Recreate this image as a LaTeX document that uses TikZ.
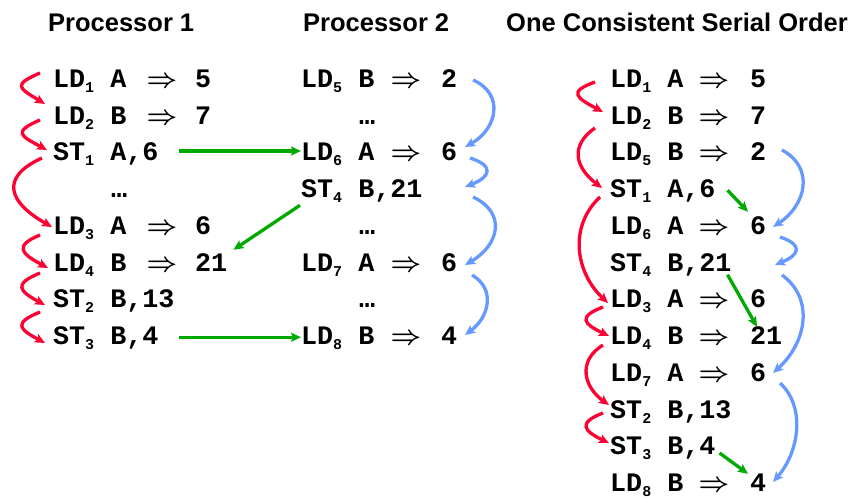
\RequirePackage{fix-cm}
\documentclass[tikz,border=0pt]{standalone}
\usepackage{fontspec}
\usetikzlibrary{arrows.meta,calc}
\newfontfamily\courf{Liberation Mono}
\newfontfamily\arialf{Liberation Sans}
\newcommand\subn[1]{\raisebox{-5pt}{\fontsize{15}{15}\selectfont #1}}
\newcommand\bimp{\mbox{\boldmath$\Rightarrow$}}
\definecolor{redc}{RGB}{255,0,51}
\definecolor{bluec}{RGB}{102,153,255}
\definecolor{greenc}{RGB}{0,170,0}
\newcommand\ldrow[7]{%
  \node[txt] (#1) at (#2,#5) {#6};
  \node[txt] (#1a) at (#3,#5) {\bimp};
  \node[txt] (#1v) at (#4,#5) {#7};}
\begin{document}
\begin{tikzpicture}[x=1pt,y=-1pt,
  txt/.style={inner sep=0pt, anchor=west, text height=14.5pt, text depth=0pt,
    font=\courf\bfseries\fontsize{26.7}{30}\selectfont},
  hdr/.style={inner sep=0pt, anchor=base west,
    font=\arialf\bfseries\fontsize{25.5}{30}\selectfont},
  redarr/.style={draw=redc, line width=3.3pt, -{Stealth[length=10pt,width=9pt,inset=2pt]}},
  bluearr/.style={draw=bluec, line width=3.3pt, -{Stealth[length=10pt,width=9pt,inset=2pt]}},
  greenarr/.style={draw=greenc, line width=3.3pt, -{Stealth[length=10pt,width=9pt,inset=2pt]}}
]
\useasboundingbox (0,0) rectangle (857,498);
% headers
\node[hdr] (h1) at (48,31) {Processor 1};
\node[hdr] (h2) at (303,31) {Processor 2};
\node[hdr] (h3) at (506,31) {One Consistent Serial Order};
% Processor 1
\ldrow{a0}{53}{146.5}{195}{80}{LD\subn{1} A}{5}
\ldrow{a1}{53}{146.5}{195}{116.75}{LD\subn{2} B}{7}
\node[txt] (a2) at (53,153.5) {ST\subn{1} A,6};
\node[txt] (a3) at (111,190.25) {…};
\ldrow{a4}{53}{146.5}{195}{227}{LD\subn{3} A}{6}
\ldrow{a5}{53}{146.5}{195}{263.75}{LD\subn{4} B}{21}
\node[txt] (a6) at (53,300.5) {ST\subn{2} B,13};
\node[txt] (a7) at (53,337.25) {ST\subn{3} B,4};
% Processor 2
\ldrow{b0}{301}{390.5}{441}{80}{LD\subn{5} B}{2}
\node[txt] (b1) at (359,116.75) {…};
\ldrow{b2}{301}{390.5}{441}{153.5}{LD\subn{6} A}{6}
\node[txt] (b3) at (301,190.25) {ST\subn{4} B,21};
\node[txt] (b4) at (359,227) {…};
\ldrow{b5}{301}{390.5}{441}{263.75}{LD\subn{7} A}{6}
\node[txt] (b6) at (359,300.5) {…};
\ldrow{b7}{301}{390.5}{441}{337.25}{LD\subn{8} B}{4}
% Serial order
\ldrow{s0}{610}{698.5}{750}{80}{LD\subn{1} A}{5}
\ldrow{s1}{610}{698.5}{750}{116.75}{LD\subn{2} B}{7}
\ldrow{s2}{610}{698.5}{750}{153.5}{LD\subn{5} B}{2}
\node[txt] (s3) at (610,190.25) {ST\subn{1} A,6};
\ldrow{s4}{610}{698.5}{750}{227}{LD\subn{6} A}{6}
\node[txt] (s5) at (610,263.75) {ST\subn{4} B,21};
\ldrow{s6}{610}{698.5}{750}{300.5}{LD\subn{3} A}{6}
\ldrow{s7}{610}{698.5}{750}{337.25}{LD\subn{4} B}{21}
\ldrow{s8}{610}{698.5}{750}{374}{LD\subn{7} A}{6}
\node[txt] (s9) at (610,410.75) {ST\subn{2} B,13};
\node[txt] (s10) at (610,447.5) {ST\subn{3} B,4};
\ldrow{s11}{610}{698.5}{750}{484.25}{LD\subn{8} B}{4}
% red arrows, processor 1
\draw[redarr] ($(a0.west)+(-13,-7)$) .. controls +(-28,12) and +(-26,-16) .. ($(a1.west)+(-8,-12.75)$);
\draw[redarr] ($(a1.west)+(-13,3.25)$) .. controls +(-28,12) and +(-26,-14) .. ($(a2.west)+(-6,-3.5)$);
\draw[redarr] ($(a2.west)+(-11,4.5)$) .. controls +(-44,20) and +(-42,-24) .. ($(a4.west)+(-1,0)$);
\draw[redarr] ($(a4.west)+(-13,8)$) .. controls +(-27,11) and +(-26,-14) .. ($(a5.west)+(-5,4.25)$);
\draw[redarr] ($(a5.west)+(-13,9.25)$) .. controls +(-27,11) and +(-26,-14) .. ($(a6.west)+(-8,4.5)$);
\draw[redarr] ($(a6.west)+(-13,11.5)$) .. controls +(-27,11) and +(-26,-14) .. ($(a7.west)+(-8,5.75)$);
% red arrows, serial
\draw[redarr] ($(s0.west)+(-15,2)$) .. controls +(-28,10) and +(-26,-14) .. ($(s1.west)+(-7,-4.75)$);
\draw[redarr] ($(s1.west)+(-15,11.25)$) .. controls +(-26,18) and +(-26,-20) .. ($(s3.west)+(-8,-2.25)$);
\draw[redarr] ($(s3.west)+(-10,6.75)$) .. controls +(-32,30) and +(-32,-30) .. ($(s6.west)+(-2,2.5)$);
\draw[redarr] ($(s6.west)+(-7,6.5)$) .. controls +(-26,10) and +(-25,-12) .. ($(s7.west)+(-1,-1.25)$);
\draw[redarr] ($(s7.west)+(-7,7.75)$) .. controls +(-26,16) and +(-25,-18) .. ($(s9.west)+(-1,-5.75)$);
\draw[redarr] ($(s9.west)+(-7,2.25)$) .. controls +(-26,10) and +(-25,-12) .. ($(s10.west)+(-1,-4.5)$);
% blue arrows, processor 2
\draw[bluearr] ($(b0.west)+(172,0)$) .. controls +(32,14) and +(32,-18) .. ($(b2.west)+(164,-6.5)$);
\draw[bluearr] ($(b2.west)+(169,4.5)$) .. controls +(25,8) and +(25,-10) .. ($(b3.west)+(164,-3.25)$);
\draw[bluearr] ($(b3.west)+(172,6.75)$) .. controls +(34,16) and +(34,-20) .. ($(b5.west)+(164,1.25)$);
\draw[bluearr] ($(b5.west)+(171,11.25)$) .. controls +(24,14) and +(24,-18) .. ($(b7.west)+(164,-2.25)$);
% blue arrows, serial
\draw[bluearr] ($(s2.west)+(172,-3.5)$) .. controls +(33,18) and +(33,-22) .. ($(s4.west)+(163,0)$);
\draw[bluearr] ($(s4.west)+(170,10)$) .. controls +(24,8) and +(24,-10) .. ($(s5.west)+(165,1.25)$);
\draw[bluearr] ($(s5.west)+(172,11.25)$) .. controls +(33,24) and +(33,-30) .. ($(s8.west)+(163,-1)$);
\draw[bluearr] ($(s8.west)+(170,9)$) .. controls +(26,24) and +(26,-30) .. ($(s11.west)+(163,-2.25)$);
% green arrows
\draw[greenarr] ($(a2.east)+(20,-2.5)$) -- ($(b2.west)+(0,-2.5)$);
\draw[greenarr] ($(b3.west)+(-1,15)$) -- ($(a5v.north east)+(6,-6.5)$);
\draw[greenarr] ($(a7.east)+(20,0)$) -- (b7.west);
\draw[greenarr] ($(s3.east)+(12,0)$) -- ($(s4v.north west)+(-2,-7.75)$);
\draw[greenarr] ($(s5.east)+(-4,11)$) -- ($(s7v.north west)+(7,-3)$);
\draw[greenarr] ($(s10.east)+(4,5.5)$) -- ($(s11v.north west)+(-2,-3)$);
\end{tikzpicture}
\end{document}
